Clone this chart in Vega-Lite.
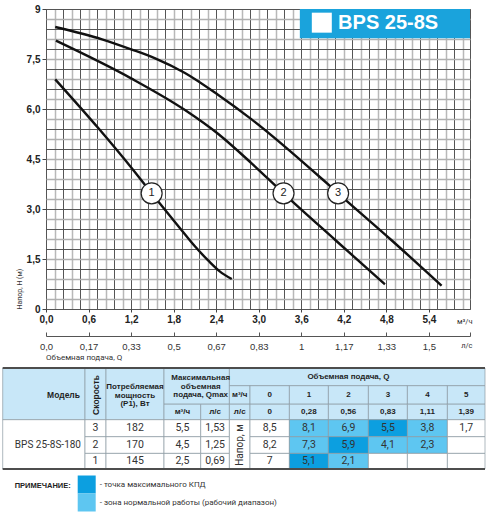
{
  "$schema": "https://vega.github.io/schema/vega-lite/v6.json",
  "padding": {"left": 1, "top": 3, "right": 0, "bottom": 0},
  "spacing": 5,
  "background": "white",
  "config": {"font": "Liberation Sans", "view": {"stroke": null}},
  "datasets": {
    "curves": [
      {"speed": "3", "q": 0.13, "h": 8.46},
      {"speed": "3", "q": 0.79, "h": 8.09},
      {"speed": "3", "q": 1.2, "h": 7.79},
      {"speed": "3", "q": 1.54, "h": 7.52},
      {"speed": "3", "q": 1.96, "h": 7.08},
      {"speed": "3", "q": 2.43, "h": 6.42},
      {"speed": "3", "q": 2.9, "h": 5.69},
      {"speed": "3", "q": 3.91, "h": 3.87},
      {"speed": "3", "q": 4.12, "h": 3.47},
      {"speed": "3", "q": 4.87, "h": 2.07},
      {"speed": "3", "q": 5.58, "h": 0.7},
      {"speed": "2", "q": 0.14, "h": 8.05},
      {"speed": "2", "q": 1.2, "h": 6.92},
      {"speed": "2", "q": 1.96, "h": 5.97},
      {"speed": "2", "q": 2.43, "h": 5.25},
      {"speed": "2", "q": 2.9, "h": 4.37},
      {"speed": "2", "q": 3.35, "h": 3.47},
      {"speed": "2", "q": 4.08, "h": 2.07},
      {"speed": "2", "q": 4.78, "h": 0.74},
      {"speed": "1", "q": 0.13, "h": 6.89},
      {"speed": "1", "q": 0.74, "h": 5.42},
      {"speed": "1", "q": 1.23, "h": 4.17},
      {"speed": "1", "q": 1.49, "h": 3.47},
      {"speed": "1", "q": 1.91, "h": 2.37},
      {"speed": "1", "q": 2.1, "h": 1.88},
      {"speed": "1", "q": 2.29, "h": 1.45},
      {"speed": "1", "q": 2.45, "h": 1.13},
      {"speed": "1", "q": 2.62, "h": 0.9}
    ],
    "markers": [
      {"speed": "1", "q": 1.49, "h": 3.47},
      {"speed": "2", "q": 3.35, "h": 3.47},
      {"speed": "3", "q": 4.12, "h": 3.47}
    ],
    "lines": [
      {"c0": 0, "c1": 12, "r": 0},
      {"c0": 0, "c1": 12, "r": 6}
    ],
    "cells": [
      {"c0": 0, "c1": 1, "r0": 0, "r1": 3, "kind": "head", "text": "Модель"},
      {"c0": 1, "c1": 2, "r0": 0, "r1": 3, "kind": "head", "text": "Скорость"},
      {"c0": 2, "c1": 3, "r0": 0, "r1": 3, "kind": "head", "text": "Потребляемая\nмощность\n(P1), Вт"},
      {"c0": 3, "c1": 5, "r0": 0, "r1": 2, "kind": "head", "text": "Максимальная\nобъемная\nподача, Qmax"},
      {"c0": 3, "c1": 4, "r0": 2, "r1": 3, "kind": "head", "text": "м³/ч"},
      {"c0": 4, "c1": 5, "r0": 2, "r1": 3, "kind": "head", "text": "л/с"},
      {"c0": 5, "c1": 12, "r0": 0, "r1": 1, "kind": "head", "text": "Объемная подача, Q"},
      {"c0": 5, "c1": 6, "r0": 1, "r1": 2, "kind": "head", "text": "м³/ч"},
      {"c0": 5, "c1": 6, "r0": 2, "r1": 3, "kind": "head", "text": "л/с"},
      {"c0": 6, "c1": 7, "r0": 1, "r1": 2, "kind": "head", "text": "0"},
      {"c0": 7, "c1": 8, "r0": 1, "r1": 2, "kind": "head", "text": "1"},
      {"c0": 8, "c1": 9, "r0": 1, "r1": 2, "kind": "head", "text": "2"},
      {"c0": 9, "c1": 10, "r0": 1, "r1": 2, "kind": "head", "text": "3"},
      {"c0": 10, "c1": 11, "r0": 1, "r1": 2, "kind": "head", "text": "4"},
      {"c0": 11, "c1": 12, "r0": 1, "r1": 2, "kind": "head", "text": "5"},
      {"c0": 6, "c1": 7, "r0": 2, "r1": 3, "kind": "head", "text": "0"},
      {"c0": 7, "c1": 8, "r0": 2, "r1": 3, "kind": "head", "text": "0,28"},
      {"c0": 8, "c1": 9, "r0": 2, "r1": 3, "kind": "head", "text": "0,56"},
      {"c0": 9, "c1": 10, "r0": 2, "r1": 3, "kind": "head", "text": "0,83"},
      {"c0": 10, "c1": 11, "r0": 2, "r1": 3, "kind": "head", "text": "1,11"},
      {"c0": 11, "c1": 12, "r0": 2, "r1": 3, "kind": "head", "text": "1,39"},
      {"c0": 0, "c1": 1, "r0": 3, "r1": 6, "kind": "plain", "text": "BPS 25-8S-180"},
      {"c0": 1, "c1": 2, "r0": 3, "r1": 4, "kind": "plain", "text": "3"},
      {"c0": 1, "c1": 2, "r0": 4, "r1": 5, "kind": "plain", "text": "2"},
      {"c0": 1, "c1": 2, "r0": 5, "r1": 6, "kind": "plain", "text": "1"},
      {"c0": 2, "c1": 3, "r0": 3, "r1": 4, "kind": "plain", "text": "182"},
      {"c0": 2, "c1": 3, "r0": 4, "r1": 5, "kind": "plain", "text": "170"},
      {"c0": 2, "c1": 3, "r0": 5, "r1": 6, "kind": "plain", "text": "145"},
      {"c0": 3, "c1": 4, "r0": 3, "r1": 4, "kind": "plain", "text": "5,5"},
      {"c0": 3, "c1": 4, "r0": 4, "r1": 5, "kind": "plain", "text": "4,5"},
      {"c0": 3, "c1": 4, "r0": 5, "r1": 6, "kind": "plain", "text": "2,5"},
      {"c0": 4, "c1": 5, "r0": 3, "r1": 4, "kind": "plain", "text": "1,53"},
      {"c0": 4, "c1": 5, "r0": 4, "r1": 5, "kind": "plain", "text": "1,25"},
      {"c0": 4, "c1": 5, "r0": 5, "r1": 6, "kind": "plain", "text": "0,69"},
      {"c0": 5, "c1": 6, "r0": 3, "r1": 6, "kind": "plain", "text": "Напор, м"},
      {"c0": 6, "c1": 7, "r0": 3, "r1": 4, "kind": "plain", "text": "8,5"},
      {"c0": 7, "c1": 8, "r0": 3, "r1": 4, "kind": "zone", "text": "8,1"},
      {"c0": 8, "c1": 9, "r0": 3, "r1": 4, "kind": "zone", "text": "6,9"},
      {"c0": 9, "c1": 10, "r0": 3, "r1": 4, "kind": "max", "text": "5,5"},
      {"c0": 10, "c1": 11, "r0": 3, "r1": 4, "kind": "zone", "text": "3,8"},
      {"c0": 11, "c1": 12, "r0": 3, "r1": 4, "kind": "plain", "text": "1,7"},
      {"c0": 6, "c1": 7, "r0": 4, "r1": 5, "kind": "plain", "text": "8,2"},
      {"c0": 7, "c1": 8, "r0": 4, "r1": 5, "kind": "zone", "text": "7,3"},
      {"c0": 8, "c1": 9, "r0": 4, "r1": 5, "kind": "max", "text": "5,9"},
      {"c0": 9, "c1": 10, "r0": 4, "r1": 5, "kind": "zone", "text": "4,1"},
      {"c0": 10, "c1": 11, "r0": 4, "r1": 5, "kind": "zone", "text": "2,3"},
      {"c0": 11, "c1": 12, "r0": 4, "r1": 5, "kind": "plain", "text": ""},
      {"c0": 6, "c1": 7, "r0": 5, "r1": 6, "kind": "plain", "text": "7"},
      {"c0": 7, "c1": 8, "r0": 5, "r1": 6, "kind": "max", "text": "5,1"},
      {"c0": 8, "c1": 9, "r0": 5, "r1": 6, "kind": "zone", "text": "2,1"},
      {"c0": 9, "c1": 10, "r0": 5, "r1": 6, "kind": "plain", "text": ""},
      {"c0": 10, "c1": 11, "r0": 5, "r1": 6, "kind": "plain", "text": ""},
      {"c0": 11, "c1": 12, "r0": 5, "r1": 6, "kind": "plain", "text": ""}
    ]
  },
  "vconcat": [
    {
      "width": 424,
      "height": 300,
      "view": {"stroke": "#555555", "strokeWidth": 1},
      "title": {
        "text": "Объемная подача, Q",
        "orient": "bottom",
        "anchor": "start",
        "frame": "group",
        "font": "Roboto",
        "fontSize": 8,
        "fontWeight": "normal",
        "color": "#333333",
        "offset": 3
      },
      "resolve": {"axis": {"x": "independent", "y": "independent"}},
      "layer": [
        {
          "data": {"name": "curves"},
          "mark": {"type": "line", "interpolate": "monotone", "color": "#111111", "strokeWidth": 2.4},
          "encoding": {
            "x": {
              "field": "q",
              "type": "quantitative",
              "scale": {"domain": [0, 5.98], "nice": false, "zero": false},
              "axis": {
                "values": [0, 0.12, 0.24, 0.36, 0.48, 0.6, 0.72, 0.84, 0.96, 1.08, 1.2, 1.32, 1.44, 1.56, 1.68, 1.8, 1.92, 2.04, 2.16, 2.28, 2.4, 2.52, 2.64, 2.76, 2.88, 3, 3.12, 3.24, 3.36, 3.48, 3.6, 3.72, 3.84, 3.96, 4.08, 4.2, 4.32, 4.44, 4.56, 4.68, 4.8, 4.92, 5.04, 5.16, 5.28, 5.4, 5.52, 5.64, 5.76, 5.88],
                "grid": true,
                "gridColor": {"condition": {"test": "round(datum.value / 0.12) % 2 == 1", "value": "#b8b8b8"}, "value": "#555555"},
                "gridWidth": {"condition": {"test": "round(datum.value / 0.12) % 2 == 1", "value": 1.5}, "value": 1},
                "domain": false,
                "tickSize": 3,
                "tickColor": "#444444",
                "tickOpacity": {"condition": {"test": "abs(datum.value / 0.6 - round(datum.value / 0.6)) < 0.01", "value": 1}, "value": 0},
                "labelExpr": "abs(datum.value / 0.6 - round(datum.value / 0.6)) < 0.01 ? replace(format(datum.value, '.1f'), '.', ',') : ''",
                "labelFont": "Liberation Sans",
                "labelFontSize": 10,
                "labelFontWeight": "bold",
                "labelColor": "#222222",
                "labelPadding": 2,
                "labelFlush": false,
                "labelOverlap": false,
                "title": "м³/ч",
                "titleX": 426,
                "titleY": 12,
                "titleAlign": "right",
                "titleBaseline": "middle",
                "titleFont": "Roboto",
                "titleFontSize": 7.5,
                "titleFontWeight": "normal",
                "titleColor": "#333333"
              }
            },
            "y": {
              "field": "h",
              "type": "quantitative",
              "scale": {"domain": [0, 9], "nice": false, "zero": false},
              "axis": {
                "values": [0, 0.3, 0.6, 0.9, 1.2, 1.5, 1.8, 2.1, 2.4, 2.7, 3, 3.3, 3.6, 3.9, 4.2, 4.5, 4.8, 5.1, 5.4, 5.7, 6, 6.3, 6.6, 6.9, 7.2, 7.5, 7.8, 8.1, 8.4, 8.7, 9],
                "grid": true,
                "gridColor": {"condition": {"test": "round(datum.value / 0.3) % 2 == 1", "value": "#b0b0b0"}, "value": "#555555"},
                "gridWidth": {"condition": {"test": "round(datum.value / 0.3) % 2 == 1", "value": 1.6}, "value": 1},
                "domain": false,
                "tickSize": 4,
                "tickColor": "#444444",
                "tickOpacity": {"condition": {"test": "abs(datum.value / 1.5 - round(datum.value / 1.5)) < 0.01", "value": 1}, "value": 0},
                "labelExpr": "datum.value == 0 ? '0' : datum.value == 9 ? '9' : (abs(datum.value / 1.5 - round(datum.value / 1.5)) < 0.01 ? replace(format(datum.value, '.1f'), '.', ',') : '')",
                "labelFont": "Liberation Sans",
                "labelFontSize": 10,
                "labelFontWeight": "bold",
                "labelColor": "#222222",
                "labelPadding": 2,
                "labelFlush": false,
                "labelOverlap": false,
                "title": "Напор, H (м)",
                "titleAnchor": "start",
                "titleFont": "Roboto",
                "titleFontSize": 7,
                "titleFontWeight": "normal",
                "titleColor": "#333333",
                "titlePadding": 4
              }
            },
            "detail": {"field": "speed", "type": "nominal"}
          }
        },
        {
          "data": {"values": [{"q": 3.58, "q2": 5.98, "h": 8.12, "h2": 9}]},
          "mark": {"type": "rect", "color": "#1aa3dc"},
          "encoding": {
            "x": {"field": "q", "type": "quantitative", "axis": null},
            "x2": {"field": "q2"},
            "y": {"field": "h", "type": "quantitative", "axis": null},
            "y2": {"field": "h2"}
          }
        },
        {
          "data": {"values": [{"q": 3.89, "h": 8.59}]},
          "mark": {"type": "point", "shape": "square", "filled": true, "color": "#ffffff", "opacity": 1, "size": 400},
          "encoding": {
            "x": {"field": "q", "type": "quantitative", "axis": null},
            "y": {"field": "h", "type": "quantitative", "axis": null}
          }
        },
        {
          "data": {"values": [{"q": 4.12, "h": 8.57, "label": "BPS 25-8S"}]},
          "mark": {"type": "text", "align": "left", "baseline": "middle", "font": "Liberation Sans", "fontSize": 20, "fontWeight": "bold", "color": "#ffffff"},
          "encoding": {
            "x": {"field": "q", "type": "quantitative", "axis": null},
            "y": {"field": "h", "type": "quantitative", "axis": null},
            "text": {"field": "label"}
          }
        },
        {
          "data": {"name": "markers"},
          "mark": {"type": "point", "shape": "circle", "filled": true, "fill": "#ffffff", "stroke": "#222222", "strokeWidth": 1.2, "opacity": 1, "size": 440},
          "encoding": {
            "x": {
              "field": "q",
              "type": "quantitative",
              "axis": {
                "orient": "bottom",
                "offset": 27,
                "values": [0, 0.6, 1.2, 1.8, 2.4, 3, 3.6, 4.2, 4.8, 5.4, 5.98],
                "grid": false,
                "domain": true,
                "domainColor": "#555555",
                "domainWidth": 1,
                "ticks": true,
                "tickColor": "#555555",
                "tickSize": -4,
                "labelPadding": 9,
                "labelExpr": "datum.value > 5.9 ? '' : datum.value == 0 ? '0,0' : replace(format(datum.value / 3.6, '.2~f'), '.', ',')",
                "labelFont": "Liberation Sans",
                "labelFontSize": 9.5,
                "labelFontWeight": "normal",
                "labelColor": "#333333",
                "labelFlush": false,
                "labelOverlap": false,
                "title": "л/с",
                "titleX": 426,
                "titleY": 9,
                "titleAlign": "right",
                "titleBaseline": "middle",
                "titleFont": "Roboto",
                "titleFontSize": 7.5,
                "titleFontWeight": "normal",
                "titleColor": "#333333"
              }
            },
            "y": {"field": "h", "type": "quantitative", "axis": null}
          }
        },
        {
          "data": {"name": "markers"},
          "mark": {"type": "text", "align": "center", "baseline": "middle", "font": "Liberation Sans", "fontSize": 11, "color": "#222222"},
          "encoding": {
            "x": {"field": "q", "type": "quantitative", "axis": null},
            "y": {"field": "h", "type": "quantitative", "axis": null},
            "text": {"field": "speed"}
          }
        }
      ]
    },
    {
      "width": 440,
      "height": 101,
      "layer": [
        {
          "data": {"name": "cells"},
          "mark": {"type": "rect", "stroke": "#8c9ba3", "strokeWidth": 0.7},
          "encoding": {
            "x": {"field": "c0", "type": "quantitative", "axis": null, "scale": {"domain": [0, 1, 2, 3, 4, 5, 6, 7, 8, 9, 10, 11, 12], "range": [-43.3, 39, 60, 118, 154.7, 183.4, 204, 243.4, 282.4, 322.4, 361.4, 401.4, 439], "nice": false, "zero": false}},
            "x2": {"field": "c1"},
            "y": {"field": "r0", "type": "quantitative", "axis": null, "scale": {"domain": [0, 1, 2, 3, 4, 5, 6], "range": [0, 17.7, 36.2, 51.7, 68.7, 85.4, 101], "nice": false, "zero": false}},
            "y2": {"field": "r1"},
            "color": {
              "field": "kind",
              "type": "nominal",
              "scale": {"domain": ["head", "plain", "zone", "max"], "range": ["#c8e7f8", "#ffffff", "#5ec6f1", "#0c9fe0"]},
              "legend": {
                "values": ["max", "zone"],
                "orient": "none",
                "legendX": -31.3,
                "legendY": 466.5,
                "direction": "vertical",
                "title": "ПРИМЕЧАНИЕ:",
                "titleOrient": "left",
                "titleAnchor": "start",
                "titleBaseline": "line-top",
                "titleLineHeight": 20,
                "titleFont": "Liberation Sans",
                "titleFontSize": 7.5,
                "titleFontWeight": "bold",
                "titleColor": "#222222",
                "titlePadding": 6,
                "symbolType": "square",
                "symbolSize": 324,
                "symbolStrokeWidth": 0,
                "symbolOpacity": 1,
                "rowPadding": 0,
                "labelOffset": 4,
                "labelFont": "Roboto",
                "labelFontSize": 8,
                "labelColor": "#333333",
                "labelLimit": 300,
                "labelExpr": "datum.value == 'max' ? '- точка максимального КПД' : '- зона нормальной работы (рабочий диапазон)'"
              }
            }
          }
        },
        {
          "data": {"name": "lines"},
          "mark": {"type": "rule", "color": "#4d4d4d", "strokeWidth": 2},
          "encoding": {
            "x": {"field": "c0", "type": "quantitative", "axis": null},
            "x2": {"field": "c1"},
            "y": {"field": "r", "type": "quantitative", "axis": null}
          }
        },
        {
          "data": {"name": "cells"},
          "transform": [
            {"filter": "datum.kind == 'head' && datum.c0 > 0 && datum.text != 'Скорость' && indexof(datum.text, '\\n') < 0"},
            {"calculate": "(datum.c0 + datum.c1) / 2", "as": "cx"},
            {"calculate": "(datum.r0 + datum.r1) / 2", "as": "cy"}
          ],
          "mark": {"type": "text", "align": "center", "baseline": "middle", "font": "Liberation Sans", "fontSize": 8, "fontWeight": "bold", "color": "#1f1f1f"},
          "encoding": {
            "x": {"field": "cx", "type": "quantitative", "axis": null},
            "y": {"field": "cy", "type": "quantitative", "axis": null},
            "text": {"field": "text"}
          }
        },
        {
          "data": {"name": "cells"},
          "transform": [
            {"filter": "indexof(datum.text, '\\n') >= 0"},
            {"calculate": "(datum.c0 + datum.c1) / 2", "as": "cx"},
            {"calculate": "(datum.r0 + datum.r1) / 2", "as": "cy"}
          ],
          "mark": {"type": "text", "align": "center", "baseline": "middle", "dy": -7.5, "font": "Liberation Sans", "fontSize": 8, "fontWeight": "bold", "color": "#1f1f1f", "lineBreak": "\n", "lineHeight": 8.5},
          "encoding": {
            "x": {"field": "cx", "type": "quantitative", "axis": null},
            "y": {"field": "cy", "type": "quantitative", "axis": null},
            "text": {"field": "text"}
          }
        },
        {
          "data": {"name": "cells"},
          "transform": [
            {"filter": "datum.kind == 'head' && datum.c0 == 0"},
            {"calculate": "(datum.r0 + datum.r1) / 2", "as": "cy"}
          ],
          "mark": {"type": "text", "align": "right", "baseline": "middle", "dx": -5, "font": "Liberation Sans", "fontSize": 8.5, "fontWeight": "bold", "color": "#1f1f1f"},
          "encoding": {
            "x": {"field": "c1", "type": "quantitative", "axis": null},
            "y": {"field": "cy", "type": "quantitative", "axis": null},
            "text": {"field": "text"}
          }
        },
        {
          "data": {"name": "cells"},
          "transform": [
            {"filter": "datum.text == 'Скорость'"},
            {"calculate": "(datum.c0 + datum.c1) / 2", "as": "cx"},
            {"calculate": "(datum.r0 + datum.r1) / 2", "as": "cy"}
          ],
          "mark": {"type": "text", "align": "center", "baseline": "middle", "angle": 270, "font": "Liberation Sans", "fontSize": 8.5, "fontWeight": "bold", "color": "#1f1f1f"},
          "encoding": {
            "x": {"field": "cx", "type": "quantitative", "axis": null},
            "y": {"field": "cy", "type": "quantitative", "axis": null},
            "text": {"field": "text"}
          }
        },
        {
          "data": {"name": "cells"},
          "transform": [
            {"filter": "datum.kind != 'head' && datum.c0 > 0 && datum.text != 'Напор, м'"},
            {"calculate": "(datum.c0 + datum.c1) / 2", "as": "cx"},
            {"calculate": "(datum.r0 + datum.r1) / 2", "as": "cy"}
          ],
          "mark": {"type": "text", "align": "center", "baseline": "middle", "font": "Roboto", "fontSize": 10.5, "color": "#333333"},
          "encoding": {
            "x": {"field": "cx", "type": "quantitative", "axis": null},
            "y": {"field": "cy", "type": "quantitative", "axis": null},
            "text": {"field": "text"}
          }
        },
        {
          "data": {"name": "cells"},
          "transform": [
            {"filter": "datum.kind != 'head' && datum.c0 == 0"},
            {"calculate": "(datum.r0 + datum.r1) / 2", "as": "cy"}
          ],
          "mark": {"type": "text", "align": "right", "baseline": "middle", "dx": -4, "font": "Roboto", "fontSize": 10, "color": "#333333"},
          "encoding": {
            "x": {"field": "c1", "type": "quantitative", "axis": null},
            "y": {"field": "cy", "type": "quantitative", "axis": null},
            "text": {"field": "text"}
          }
        },
        {
          "data": {"name": "cells"},
          "transform": [
            {"filter": "datum.text == 'Напор, м'"},
            {"calculate": "(datum.c0 + datum.c1) / 2", "as": "cx"},
            {"calculate": "(datum.r0 + datum.r1) / 2", "as": "cy"}
          ],
          "mark": {"type": "text", "align": "center", "baseline": "middle", "angle": 270, "font": "Roboto", "fontSize": 10, "color": "#333333"},
          "encoding": {
            "x": {"field": "cx", "type": "quantitative", "axis": null},
            "y": {"field": "cy", "type": "quantitative", "axis": null},
            "text": {"field": "text"}
          }
        }
      ]
    }
  ]
}
